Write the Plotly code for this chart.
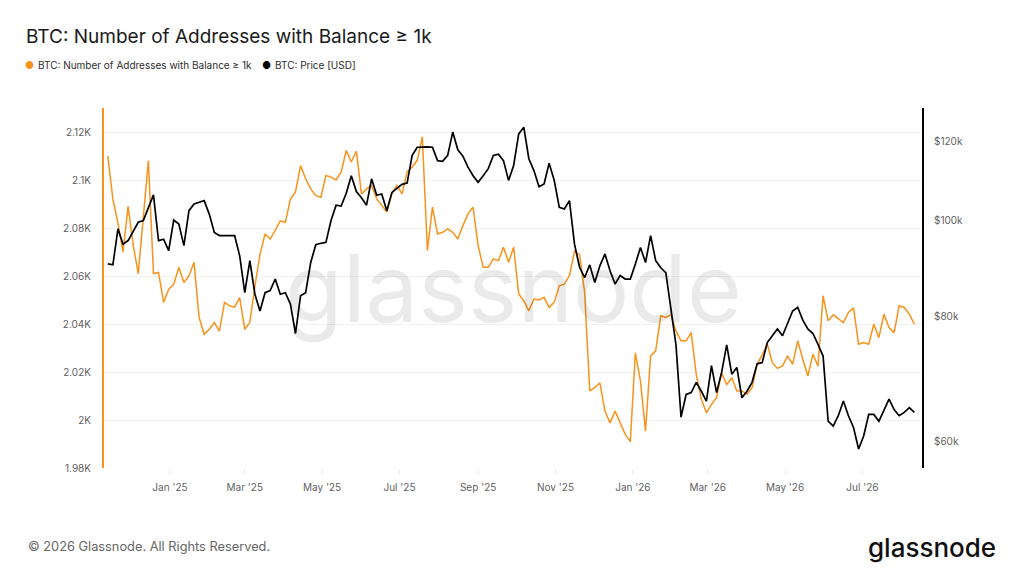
import numpy as np
import pandas as pd
import plotly.graph_objects as go

# ---------------------------
# Data (4-day steps)
# ---------------------------
START_DATE = "2024-11-13"
STEP = "4D"

ADDRESSES_1K = [
    2110, 2092, 2082, 2070, 2089, 2073, 2061, 2084, 2108, 2061,
    2061.5, 2049, 2054.5, 2056.6, 2063.6, 2057.3, 2060, 2065.7, 2042.7, 2035.7,
    2037.8, 2040.6, 2037, 2049, 2047.6, 2047, 2051, 2037.8, 2040.6, 2055.9,
    2069, 2077.5, 2075.4, 2079, 2083, 2082.4, 2092.1, 2095, 2106, 2100.5,
    2096.3, 2093.5, 2092.8, 2101.9, 2101.2, 2100, 2103.3, 2112.3, 2107.5, 2112,
    2094.2, 2096.3, 2097.7, 2092.1, 2089.4, 2086.6, 2094.2, 2097.7, 2094.2, 2103.3,
    2105.4, 2108.2, 2118, 2070.6, 2088.7, 2077.5, 2078.2, 2079.6, 2078.2, 2075.4,
    2081, 2085.9, 2088.7, 2072.7, 2063.6, 2063.6, 2067.1, 2066.4, 2072, 2065.7,
    2072, 2052.5, 2049.7, 2045.5, 2050.4, 2050, 2051.1, 2046.9, 2049, 2055.9,
    2056.6, 2060.1, 2070.3, 2068.9, 2053.1, 2012.1, 2013.5, 2015.5, 2003.7, 1998.8,
    2003.7, 1998.8, 1994, 1991, 2028, 2016.2, 1995.3, 2026.7, 2028.8, 2043.4,
    2042.7, 2043.8, 2037.1, 2033, 2033, 2036.4, 2019, 2008.6, 2003, 2006.5,
    2009.3, 2019.7, 2014.8, 2017.6, 2012.1, 2012.1, 2010.7, 2013.5, 2023.2, 2027.1,
    2031.6, 2023.9, 2021.5, 2022.5, 2026.7, 2023.2, 2033, 2025.3, 2018.3, 2027.4,
    2022.5, 2051.8, 2041.3, 2043.8, 2042, 2040.6, 2044.8, 2046.6, 2031.6, 2032.3,
    2031.6, 2039.9, 2034.3, 2044.1, 2038.5, 2036.4, 2047.6, 2046.9, 2044.1, 2039.9,
]

# BTC price in thousands of USD
PRICE_K = [
    90.4, 90.2, 98.0, 94.6, 95.4, 97.6, 99.5, 99.9, 103, 106,
    95.4, 95.7, 93.2, 100, 99.1, 94.3, 102.2, 103.8, 104.2, 104.6,
    101.4, 97.2, 96.5, 96.5, 96.5, 96.5, 92.1, 84.6, 91.1, 84.3,
    81.1, 84.6, 85.0, 87.3, 84.3, 84.6, 82.4, 77, 84.0, 84.6,
    90.7, 94.5, 94.8, 95.0, 99.9, 103.5, 103.3, 106.4, 110.8, 106.8,
    105.3, 103.5, 110.0, 105.9, 106.2, 102.2, 106.6, 107.5, 108.6, 108.9,
    116.1, 118.3, 118.4, 118.4, 118.3, 114.7, 114.5, 116.1, 122.5, 117.6,
    115.9, 113.0, 110.8, 109.1, 110.8, 112.6, 116.1, 116.4, 114.7, 109.6,
    113.4, 122.0, 123.9, 115.2, 112.1, 108.0, 108.7, 114.0, 109.6, 103.0,
    102.6, 104.6, 94.6, 89.7, 87.6, 90.2, 86.6, 90.0, 92.5, 89.0,
    86.3, 88.0, 87.3, 87.3, 90.4, 93.9, 90.7, 96.5, 91.1, 89.6,
    88.6, 81.8, 75, 63.5, 66.9, 67.2, 68.8, 67.4, 65.9, 71.5,
    67.2, 70.4, 75.0, 70.1, 71.2, 66.4, 67.4, 68.8, 71.8, 72.0,
    75.4, 76.6, 77.8, 76.6, 79.0, 81.1, 81.8, 79.4, 77.8, 77.0,
    75.1, 73.1, 62.9, 62.2, 63.7, 65.9, 63.7, 62.0, 59.0, 60.8,
    63.9, 63.9, 62.9, 64.6, 66.2, 64.6, 63.7, 64.2, 64.9, 64.2,
]

LEFT_TICKS = [1980, 2000, 2020, 2040, 2060, 2080, 2100, 2120]
LEFT_TICK_TEXT = ["1.98K", "2K", "2.02K", "2.04K", "2.06K", "2.08K", "2.1K", "2.12K"]
RIGHT_TICKS = [60, 80, 100, 120]
RIGHT_TICK_TEXT = ["$60k", "$80k", "$100k", "$120k"]

dates = pd.date_range(START_DATE, periods=len(ADDRESSES_1K), freq=STEP)

# ---------------------------
# Style / layout (page body has an 8px margin, so the figure is shifted)
# ---------------------------
ORANGE = "#F7931A"
FONT = "Inter"
OFF = 8
W, H = 1024 - OFF, 576 - OFF
L, R, T, B = 104 - OFF, 102, 108 - OFF, 108


def px(x, y):
    # window pixel -> paper coords
    x, y = x - OFF, y - OFF
    return (x - L) / (W - L - R), (H - B - y) / (H - T - B)


fig = go.Figure()

fig.add_trace(go.Scatter(
    x=dates, y=ADDRESSES_1K, mode="lines",
    line=dict(color=ORANGE, width=1.5),
    name="BTC: Number of Addresses with Balance ≥ 1k",
    showlegend=False,
))
fig.add_trace(go.Scatter(
    x=dates, y=PRICE_K, mode="lines", yaxis="y2",
    line=dict(color="#000000", width=1.7),
    name="BTC: Price [USD]",
    showlegend=False,
))

fig.update_layout(
    width=W, height=H,
    margin=dict(l=L, r=R, t=T, b=B),
    paper_bgcolor="white",
    plot_bgcolor="white",
    font=dict(family=FONT, color="#5f5f5f", size=10),
    title=dict(
        text="BTC: Number of Addresses with Balance ≥ 1k",
        x=(26 - OFF) / W, xref="container", xanchor="left",
        y=1 - (36 - OFF) / H, yref="container", yanchor="middle",
        font=dict(family=FONT, size=19, color="#1a1a1a"),
    ),
    xaxis=dict(
        type="date",
        range=["2024-11-10", "2026-08-17"],
        tick0="2025-01-01", dtick="M2", tickformat="%b '%y",
        showgrid=False, zeroline=False, showline=False,
        ticks="outside", ticklen=5, tickcolor="#e8e8e8",
        ticklabelstandoff=5,
        tickfont=dict(size=10, color="#5f5f5f"),
    ),
    yaxis=dict(
        range=[1980, 2130],
        tickvals=LEFT_TICKS, ticktext=LEFT_TICK_TEXT,
        showgrid=True, gridcolor="#f1f1f1", gridwidth=1,
        zeroline=False,
        showline=True, linecolor=ORANGE, linewidth=2,
        ticks="", ticklabelstandoff=9,
        tickfont=dict(size=10, color="#5f5f5f"),
    ),
    yaxis2=dict(
        type="log",
        range=[np.log10(56.47), np.log10(129.5)],
        tickvals=RIGHT_TICKS, ticktext=RIGHT_TICK_TEXT,
        overlaying="y", side="right",
        showgrid=False, zeroline=False,
        showline=True, linecolor="#000000", linewidth=2,
        ticks="", ticklabelstandoff=8,
        tickfont=dict(size=10, color="#5f5f5f"),
    ),
)

annotations = []

# watermark
wx, wy = px(513, 288)
annotations.append(dict(
    x=wx, y=wy, xref="paper", yref="paper", text="glassnode",
    showarrow=False, xanchor="center", yanchor="middle",
    font=dict(family=FONT, size=94, color="#000000"), opacity=0.08,
))

# legend (dots + labels)
legend_items = [
    (29, ORANGE, "BTC: Number of Addresses with Balance ≥ 1k"),
    (266, "#000000", "BTC: Price [USD]"),
]
for x0, col, label in legend_items:
    dx, dy = px(x0, 65)
    annotations.append(dict(
        x=dx, y=dy, xref="paper", yref="paper", text="●",
        showarrow=False, xanchor="center", yanchor="middle",
        font=dict(family=FONT, size=10, color=col),
    ))
    tx, ty = px(x0 + 7, 65)
    annotations.append(dict(
        x=tx, y=ty, xref="paper", yref="paper", text=label,
        showarrow=False, xanchor="left", yanchor="middle",
        font=dict(family=FONT, size=10, color="#2b2b2b"),
    ))

# footer
fx, fy = px(26, 546)
annotations.append(dict(
    x=fx, y=fy, xref="paper", yref="paper",
    text="© 2026 Glassnode. All Rights Reserved.",
    showarrow=False, xanchor="left", yanchor="middle",
    font=dict(family=FONT, size=12.8, color="#666666"),
))
lx, ly = px(998, 547)
annotations.append(dict(
    x=lx, y=ly, xref="paper", yref="paper", text="glassnode",
    showarrow=False, xanchor="right", yanchor="middle",
    font=dict(family=FONT, size=26, color="#111111", weight=500),
))

fig.update_layout(annotations=annotations)

fig.write_html("out.html")
